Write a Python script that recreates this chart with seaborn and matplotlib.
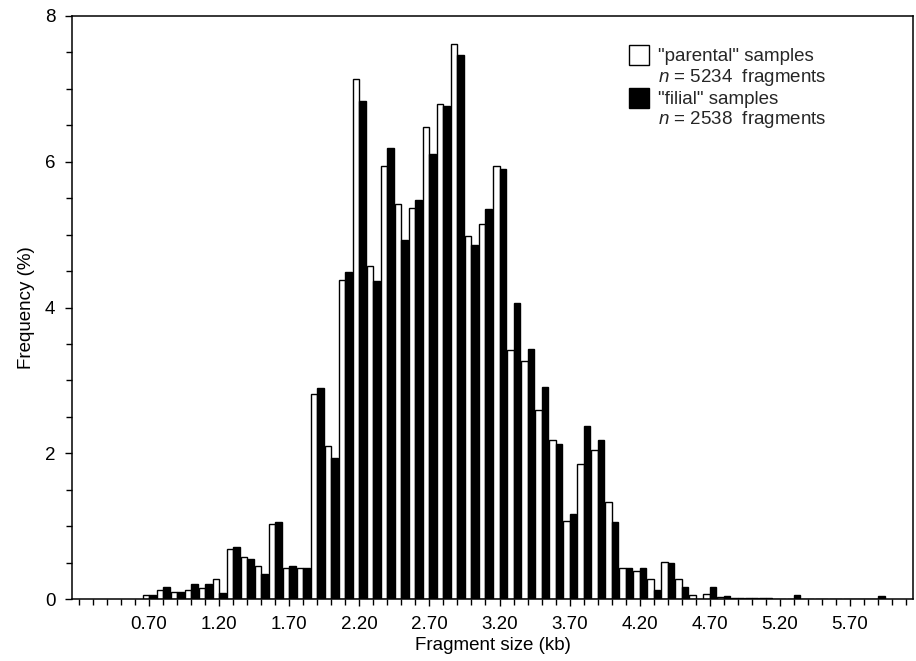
import matplotlib
matplotlib.use("Agg")
import matplotlib.pyplot as plt
from matplotlib.patches import Patch
from matplotlib.ticker import FixedLocator, MultipleLocator
import numpy as np
import pandas as pd
import seaborn as sns

# ---- data ----
sizes = [0.7, 0.8, 0.9, 1.0, 1.1, 1.2, 1.3, 1.4, 1.5, 1.6,
         1.7, 1.8, 1.9, 2.0, 2.1, 2.2, 2.3, 2.4, 2.5, 2.6,
         2.7, 2.8, 2.9, 3.0, 3.1, 3.2, 3.3, 3.4, 3.5, 3.6,
         3.7, 3.8, 3.9, 4.0, 4.1, 4.2, 4.3, 4.4, 4.5, 4.6,
         4.7, 4.8, 4.9, 5.0, 5.1, 5.2, 5.3, 5.4, 5.5, 5.6,
         5.7, 5.8, 5.9]
parental = [0.06, 0.13, 0.09, 0.13, 0.15, 0.27, 0.69, 0.57, 0.45, 1.03,
            0.43, 0.42, 2.81, 2.10, 4.38, 7.13, 4.57, 5.94, 5.42, 5.37,
            6.47, 6.79, 7.61, 4.98, 5.15, 5.94, 3.41, 3.26, 2.60, 2.18,
            1.07, 1.85, 2.04, 1.33, 0.42, 0.38, 0.27, 0.51, 0.28, 0.06,
            0.07, 0.03, 0.02, 0.02, 0.01, 0.00, 0.00, 0.00, 0.00, 0.00,
            0.00, 0.00, 0.00]
filial = [0.06, 0.17, 0.09, 0.20, 0.21, 0.08, 0.71, 0.55, 0.34, 1.06,
          0.45, 0.42, 2.90, 1.94, 4.49, 6.84, 4.37, 6.19, 4.92, 5.47,
          6.10, 6.76, 7.47, 4.86, 5.35, 5.90, 4.06, 3.43, 2.91, 2.13,
          1.17, 2.37, 2.18, 1.05, 0.42, 0.42, 0.12, 0.50, 0.16, 0.00,
          0.16, 0.04, 0.02, 0.02, 0.01, 0.00, 0.05, 0.00, 0.00, 0.00,
          0.00, 0.00, 0.04]
series_names = ["parental", "filial"]
legend_labels = ['"parental" samples', '$n$ = 5234  fragments',
                 '"filial" samples', '$n$ = 2538  fragments']
x_tick_labels = ["0.70", "1.20", "1.70", "2.20", "2.70", "3.20",
                 "3.70", "4.20", "4.70", "5.20", "5.70"]
y_tick_labels = ["0", "2", "4", "6", "8"]

df = pd.DataFrame({
    "size": np.round(sizes * 2, 2),
    "sample": [series_names[0]] * len(sizes) + [series_names[1]] * len(sizes),
    "freq": parental + filial,
})

sns.set_style("white")
plt.rcParams["font.family"] = ["Liberation Sans", "DejaVu Sans"]
plt.rcParams["mathtext.fontset"] = "custom"
plt.rcParams["mathtext.it"] = "Liberation Sans:italic"
plt.rcParams["mathtext.rm"] = "Liberation Sans"

fig = plt.figure(figsize=(9.16, 6.61), dpi=100)
ax = fig.add_axes([72 / 916, 1 - 599 / 661, 841 / 916, 583 / 661])

sns.barplot(data=df, x="size", y="freq", hue="sample", hue_order=series_names,
            palette={"parental": "white", "filial": "black"},
            native_scale=True, width=0.94, dodge=True, errorbar=None,
            edgecolor="black", linewidth=1.0, legend=False, ax=ax)

ax.set_xlim(0.15, 6.15)
ax.set_ylim(0, 8)

ax.xaxis.set_major_locator(FixedLocator([float(t) for t in x_tick_labels]))
ax.set_xticklabels(x_tick_labels)
ax.xaxis.set_minor_locator(MultipleLocator(0.1))
ax.yaxis.set_major_locator(FixedLocator([float(t) for t in y_tick_labels]))
ax.set_yticklabels(y_tick_labels)
ax.yaxis.set_minor_locator(MultipleLocator(0.5))

ax.tick_params(which="both", direction="out", color="black", width=1.0,
               bottom=True, left=True, top=False, right=False)
ax.tick_params(which="major", length=5, labelsize=13.5, pad=7, labelcolor="black")
ax.tick_params(which="minor", length=4)

for s in ax.spines.values():
    s.set_visible(True)
    s.set_color("black")
    s.set_linewidth(1.1)

ax.set_xlabel("Fragment size (kb)", fontsize=13.5, labelpad=3, color="black")
ax.set_ylabel("Frequency (%)", fontsize=13.5, labelpad=7, color="black")

invisible = Patch(facecolor="none", edgecolor="none")
handles = [Patch(facecolor="white", edgecolor="black", linewidth=1.0), invisible,
           Patch(facecolor="black", edgecolor="black", linewidth=1.0), invisible]
ax.legend(handles, legend_labels, loc="upper left",
          bbox_to_anchor=(0.662, 0.95), frameon=False, fontsize=13.5,
          handlelength=1.07, handleheight=1.26, handletextpad=0.5,
          labelspacing=0.0, borderpad=0, borderaxespad=0)

fig.savefig("out.png", dpi=100)
